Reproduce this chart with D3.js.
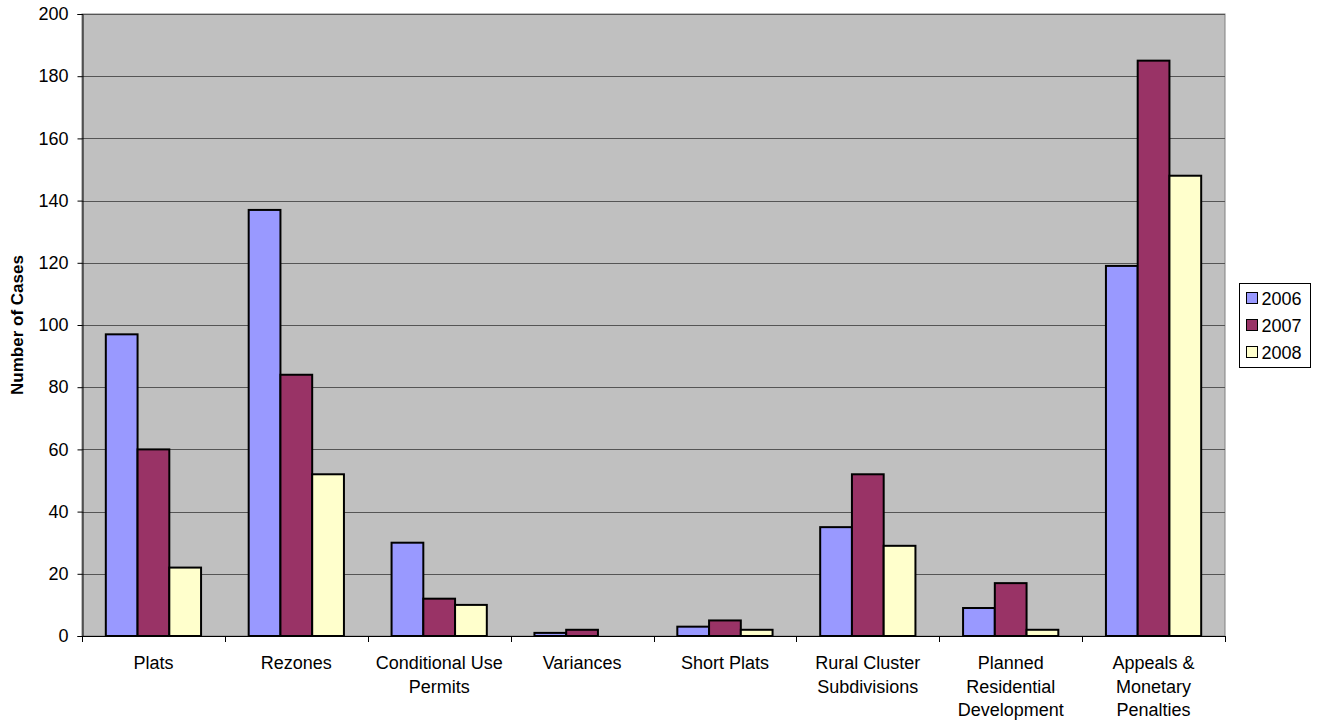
<!DOCTYPE html>
<html>
<head>
<meta charset="utf-8">
<script src="https://cdn.jsdelivr.net/npm/d3@7"></script>
<style>
  body { margin: 0; background: #fff; }
  text { font-family: "Liberation Sans", Arial, sans-serif; }
</style>
</head>
<body>
<script>
// chart data
var categories = [["Plats"], ["Rezones"], ["Conditional Use", "Permits"], ["Variances"], ["Short Plats"],
    ["Rural Cluster", "Subdivisions"], ["Planned", "Residential", "Development"], ["Appeals &", "Monetary", "Penalties"]];
var seriesNames = ["2006", "2007", "2008"];
var values2006 = [97, 137, 30, 1, 3, 35, 9, 119];
var values2007 = [60, 84, 12, 2, 5, 52, 17, 185];
var values2008 = [22, 52, 10, 0, 2, 29, 2, 148];
var yTicks = [0, 20, 40, 60, 80, 100, 120, 140, 160, 180, 200];
var colors = ["#9999ff", "#993366", "#ffffcc"];

(function(){
    var width = 1318, height = 724;
    var left = 82, right = 1225, top = 14, bottom = 636;

    var svg = d3.select("body").append("svg")
        .attr("width", width)
        .attr("height", height);

    var series = [values2006, values2007, values2008];

    var x = d3.scaleBand()
        .domain(d3.range(categories.length))
        .range([left, right])
        .paddingInner(0)
        .paddingOuter(0);

    var y = d3.scaleLinear().domain([0, 200]).range([bottom, top]);

    //plot background
    svg.append("rect")
        .attr("x", left).attr("y", top)
        .attr("width", right - left).attr("height", bottom - top)
        .attr("fill", "#c0c0c0")
        .attr("stroke", "#808080");

    //gridlines
    svg.selectAll(".grid")
        .data(yTicks)
        .enter().append("line")
        .attr("x1", left).attr("x2", right)
        .attr("y1", function(d){ return Math.round(y(d)) + 0.5; })
        .attr("y2", function(d){ return Math.round(y(d)) + 0.5; })
        .attr("stroke", "#555")
        .attr("stroke-width", 1);

    //bars - gap width 150%
    var bw = x.bandwidth() / 4.5;
    var groups = svg.selectAll(".cat")
        .data(categories)
        .enter().append("g")
        .attr("transform", function(d, i){ return "translate(" + (x(i) + bw * 0.75) + ",0)"; });

    groups.selectAll("rect")
        .data(function(d, i){ return series.map(function(s, j){ return {v: s[i], j: j}; }); })
        .enter().append("rect")
        .filter(function(d){ return d.v > 0; })
        .attr("x", function(d){ return d.j * bw; })
        .attr("y", function(d){ return y(d.v); })
        .attr("width", bw)
        .attr("height", function(d){ return bottom - y(d.v); })
        .attr("fill", function(d){ return colors[d.j]; })
        .attr("stroke", "#000")
        .attr("stroke-width", 2);

    //y axis
    var yAxis = d3.axisLeft(y).tickValues(yTicks).tickSize(5).tickPadding(9);
    var ya = svg.append("g")
        .attr("transform", "translate(" + (left + 0.5) + ",0)")
        .call(yAxis);
    ya.select(".domain").attr("stroke", "#000");
    ya.selectAll("text").style("font-size", "18px").attr("fill", "#000");
    ya.selectAll("line").attr("stroke", "#000");

    //x axis line and ticks at category boundaries
    svg.append("line")
        .attr("x1", left).attr("x2", right)
        .attr("y1", bottom + 0.5).attr("y2", bottom + 0.5)
        .attr("stroke", "#000");
    svg.selectAll(".xtick")
        .data(d3.range(categories.length + 1))
        .enter().append("line")
        .attr("x1", function(i){ return Math.round(left + i * x.step()) + 0.5; })
        .attr("x2", function(i){ return Math.round(left + i * x.step()) + 0.5; })
        .attr("y1", bottom).attr("y2", bottom + 6)
        .attr("stroke", "#000");

    //category labels
    var labels = svg.selectAll(".xlabel")
        .data(categories)
        .enter().append("text")
        .attr("text-anchor", "middle")
        .style("font-size", "18px")
        .attr("transform", function(d, i){ return "translate(" + (x(i) + x.bandwidth() / 2) + ",669)"; });
    labels.selectAll("tspan")
        .data(function(d){ return d; })
        .enter().append("tspan")
        .attr("x", 0)
        .attr("y", function(d, i){ return i * 23.5; })
        .text(function(d){ return d; });

    //y axis title
    svg.append("text")
        .attr("transform", "translate(23," + ((top + bottom) / 2) + ") rotate(-90)")
        .attr("text-anchor", "middle")
        .style("font-size", "17px")
        .style("font-weight", "bold")
        .text("Number of Cases");

    //legend
    var legend = svg.append("g").attr("transform", "translate(1239.5,283.5)");
    legend.append("rect")
        .attr("width", 71).attr("height", 84)
        .attr("fill", "#fff").attr("stroke", "#000");
    var items = legend.selectAll(".item")
        .data(seriesNames)
        .enter().append("g")
        .attr("transform", function(d, i){ return "translate(7," + (15 + i * 27) + ")"; });
    items.append("rect")
        .attr("x", 0).attr("y", -6)
        .attr("width", 11).attr("height", 11)
        .attr("fill", function(d, i){ return colors[i]; })
        .attr("stroke", "#000");
    items.append("text")
        .attr("x", 15).attr("y", 6)
        .style("font-size", "18px")
        .text(function(d){ return d; });
})();
</script>
</body>
</html>
